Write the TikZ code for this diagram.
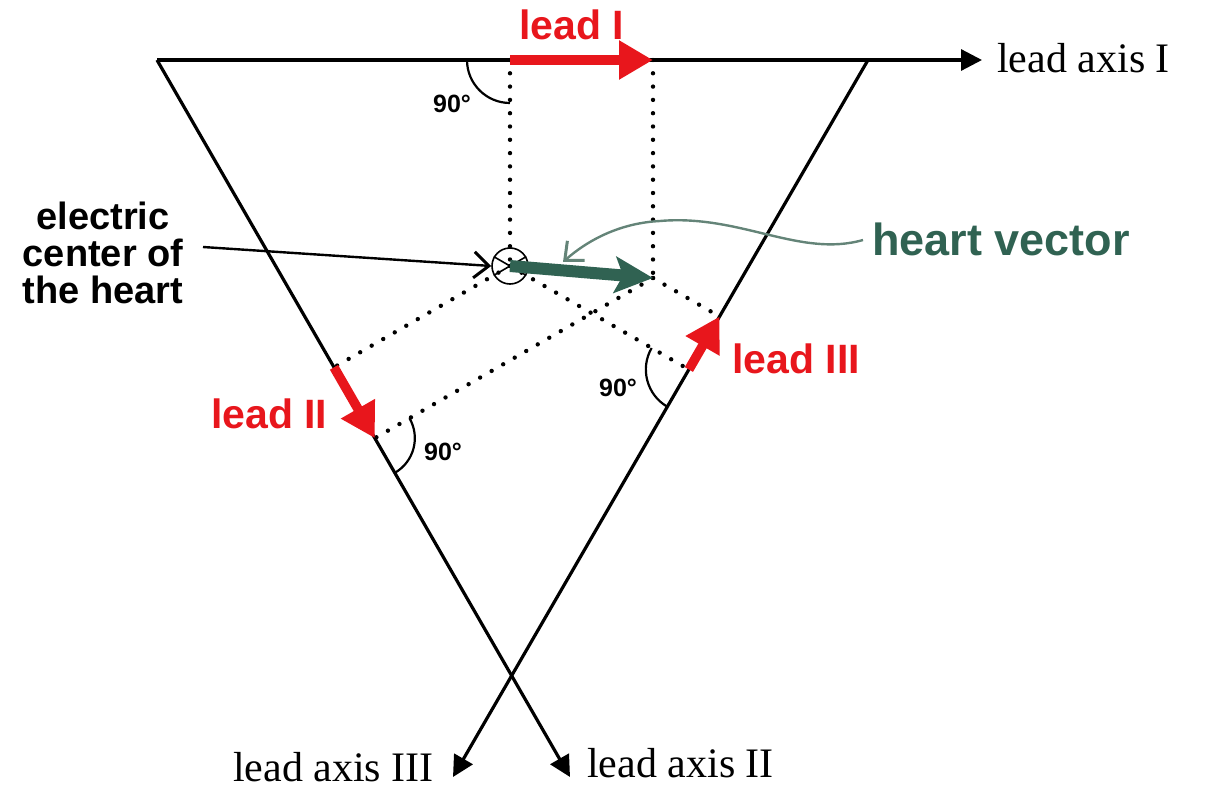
\documentclass[tikz,border=0pt]{standalone}
\usepackage{fontspec}
\setmainfont{Liberation Serif}
\setsansfont{Liberation Sans}
\usetikzlibrary{arrows.meta,calc}
\definecolor{leadred}{RGB}{232,22,28}
\definecolor{hgreen}{RGB}{48,98,82}
\definecolor{hgrey}{RGB}{100,132,120}
\begin{document}
\begin{tikzpicture}[x=1pt,y=-1pt,
  axisline/.style={line width=3.2pt, -{Triangle[length=21pt,width=21pt]}},
  dotline/.style={line width=4.4pt, line cap=round, dash pattern=on 0pt off 13.3pt},
  leadarrow/.style={leadred, line width=9.5pt, -{Triangle[length=34pt,width=37pt]}},
  hvarrow/.style={hgreen, line width=12pt, -{Stealth[length=38pt,width=36pt,inset=8pt]}},
  sflab/.style={font=\sffamily\bfseries\fontsize{41}{45}\selectfont, inner sep=0pt},
  serlab/.style={font=\fontsize{42}{46}\selectfont, inner sep=0pt, anchor=base west},
  deglab/.style={font=\sffamily\bfseries\fontsize{25}{28}\selectfont, inner sep=0pt},
  rightarc/.style={line width=2.2pt},
  pointer/.style={line width=2.4pt, -{Straight Barb[length=15pt,width=26pt,line width=3pt]}},
]
\useasboundingbox (0,0) rectangle (1215,789);

% triangle corners and axis ends
\coordinate (A) at (157,60);
\coordinate (B) at (868,60);
\coordinate (E1) at (982,60);
\coordinate (E2) at (570,777);
\coordinate (E3) at (453,777);

% axes
\draw[axisline] (A) -- (E1);
\draw[axisline] (A) -- (E2);
\draw[axisline] (B) -- (E3);

% electric center and heart vector tip
\node[circle, draw, line width=1.6pt, minimum size=36pt, inner sep=0pt] (ctr) at (510,266) {};
\draw[line width=1.6pt] (ctr.30) -- (ctr.210) (ctr.150) -- (ctr.-30);
\coordinate (Q) at (653,278);

% projections
\coordinate (IP) at (510,60);
\coordinate (IQ) at (653,60);
\coordinate (IIP) at ($(A)!(ctr.center)!(E2)$);
\coordinate (IIQ) at ($(A)!(Q)!(E2)$);
\coordinate (IIIP) at ($(B)!(ctr.center)!(E3)$);
\coordinate (IIIQ) at ($(B)!(Q)!(E3)$);

% dotted projection lines
\draw[dotline] (IP) -- (ctr.center);
\draw[dotline] (IQ) -- (Q);
\draw[dotline] (ctr.center) -- (IIP);
\draw[dotline] (Q) -- (IIQ);
\draw[dotline] (ctr.center) -- (IIIP);
\draw[dotline] (Q) -- (IIIQ);

% right-angle arcs
\draw[rightarc] ($(IP)+(180:43)$) arc[start angle=180, end angle=90, radius=43];
\draw[rightarc] ($(IIQ)+(-30:40)$) arc[start angle=-30, end angle=60, radius=40];
\draw[rightarc] ($(IIIP)+(210:43)$) arc[start angle=210, end angle=120, radius=43];
\node[deglab] (d1) at (452,104) {90°};
\node[deglab] (d2) at (443,452) {90°};
\node[deglab] (d3) at (618,388) {90°};

% lead vectors
\draw[leadarrow] (IP) -- (IQ);
\draw[leadarrow] (IIP) -- (IIQ);
\draw[leadarrow] (IIIP) -- (IIIQ);

% heart vector
\draw[hvarrow] (ctr.center) -- (Q);

% labels
\node[sflab, leadred, anchor=base west] (l1) at (519,40) {lead I};
\node[sflab, leadred, anchor=base west] (l2) at (211,428) {lead II};
\node[sflab, leadred, anchor=base west] (l3) at (732,373) {lead III};
\node[serlab] (ax1) at (997,73) {lead axis I};
\node[serlab] (ax2) at (587,777) {lead axis II};
\node[serlab] (ax3) at (233,781) {lead axis III};
\node[sflab, hgreen, anchor=base west, font=\sffamily\bfseries\fontsize{45}{48}\selectfont] (hvt) at (872,255) {heart vector};
\node[sflab, align=center, font=\sffamily\bfseries\fontsize{38}{37}\selectfont] (ec) at (103,253) {electric\\center of\\the heart};

% pointers
\coordinate (ecs) at (203,247);
\draw[pointer] (ecs) -- (ctr.west);
\coordinate (hvs) at (863,240);
\draw[pointer, hgrey] (hvs) .. controls (800,258) and (740,214) .. (660,221) .. controls (620,223) and (588,240) .. (563,262);
\end{tikzpicture}
\end{document}
